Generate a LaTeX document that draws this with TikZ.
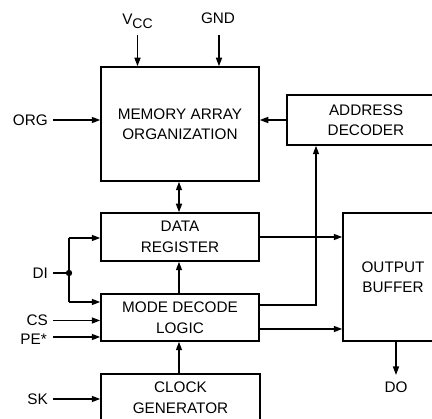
\documentclass[tikz,border=0pt]{standalone}
\usepackage{fontspec}
\setmainfont{Liberation Sans}
\usetikzlibrary{arrows.meta}
\begin{document}
\begin{tikzpicture}[x=1pt,y=-1pt,
  every node/.style={font=\fontsize{15.3}{20.5}\selectfont},
  blk/.style={draw,line width=1.5pt,inner sep=0pt,align=center},
  lbl/.style={inner sep=0pt},
  wire/.style={line width=1.5pt},
  arr/.style={wire,-{Triangle[length=8.5pt,width=6pt]}},
  darr/.style={wire,{Triangle[length=8.5pt,width=6pt]}-{Triangle[length=8.5pt,width=6pt]}}]
\useasboundingbox (0,0) rectangle (432,419);
\clip (0,0) rectangle (432,419);
% blocks
\node[blk,minimum width=158pt,minimum height=114pt] (mem) at (180,124) {MEMORY ARRAY\\ORGANIZATION};
\node[blk,minimum width=158pt,minimum height=50pt] (addr) at (366,120) {ADDRESS\\DECODER};
\node[blk,minimum width=158pt,minimum height=48pt] (dreg) at (180,237) {DATA\\REGISTER};
\node[blk,minimum width=158pt,minimum height=47pt] (mode) at (180,317.5) {MODE DECODE\\LOGIC};
\node[blk,minimum width=159pt,minimum height=47pt] (clk) at (180.5,397.5) {CLOCK\\GENERATOR};
\node[blk,minimum width=100pt,minimum height=128pt] (out) at (393,277) {OUTPUT\\BUFFER};
% labels
\node[lbl] (vcc) at (137.5,21) {V\raisebox{-0.45ex}{\fontsize{14}{15}\selectfont CC}};
\node[lbl] (gnd) at (218,18.5) {GND};
\node[lbl,anchor=east] (org) at (48,120) {ORG};
\node[lbl,anchor=east] (di) at (48,273) {DI};
\node[lbl,anchor=east] (cs) at (48,320.5) {CS};
\node[lbl,anchor=east] (pe) at (47,339) {PE*};
\node[lbl,anchor=east] (sk) at (48,399) {SK};
\node[lbl] (do) at (396,387) {DO};
% junction
\coordinate (j) at (69,273);
\coordinate (jt) at (69,238);
\coordinate (jb) at (69,302);
\coordinate (ad) at (316,305);
% connectors
\draw[arr] (vcc.south |- 0,35) -- (vcc.south |- mem.north);
\draw[arr] (219,35) -- (219,0 |- mem.north);
\draw[arr] (53,0 |- org.east) -- (mem.west |- org.east);
\draw[arr] (addr.west) -- (mem.east |- addr.west);
\draw[darr] (179,0 |- mem.south) -- (179,0 |- dreg.north);
\draw[wire] (53,0 |- di.east) -- (j);
\draw[wire] (jt) -- (jb);
\fill (j) circle (3.2pt);
\draw[arr] (jt) -- (dreg.west |- jt);
\draw[arr] (jb) -- (mode.west |- jb);
\draw[arr] (53,0 |- cs.east) -- (mode.west |- cs.east);
\draw[arr] (53,337) -- (mode.west |- 0,337);
\draw[arr] (53,0 |- sk.east) -- (clk.west |- sk.east);
\draw[arr] (179,0 |- clk.north) -- (179,0 |- mode.south);
\draw[arr] (179,0 |- mode.north) -- (179,0 |- dreg.south);
\draw[arr] (dreg.east) -- (out.west |- dreg.east);
\draw[arr] (mode.east |- ad) -- (ad) -- (ad |- addr.south);
\draw[arr] (mode.east |- 0,329) -- (out.west |- 0,329);
\draw[arr] (396,0 |- out.south) -- (396,375);
\end{tikzpicture}
\end{document}
